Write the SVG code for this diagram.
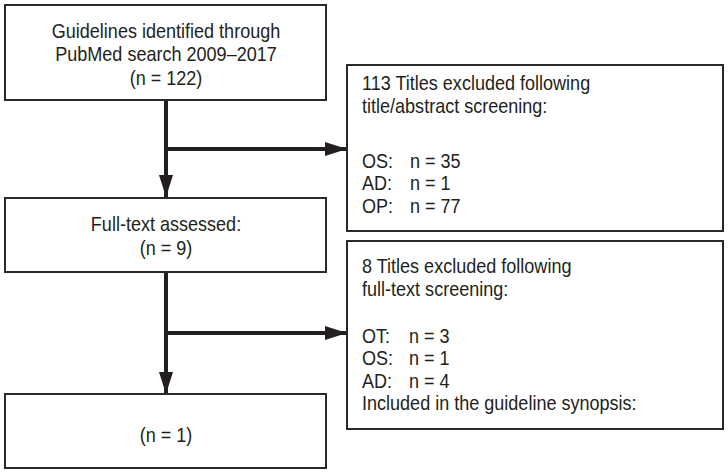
<svg xmlns="http://www.w3.org/2000/svg" width="728" height="474" viewBox="0 0 728 474">
<style>
.box{fill:#fff;stroke:#2a2a2a;stroke-width:2}
.t{font-family:"Liberation Sans",Arial,sans-serif;font-size:20.5px;fill:#231f20}
.c{text-anchor:middle}
.con{stroke:#231f20;stroke-width:4;fill:none}
</style>
<defs>
<marker id="ah" markerUnits="userSpaceOnUse" markerWidth="22" markerHeight="14" refX="22" refY="7" orient="auto">
<path d="M0,0 L22,7 L0,14 Z" fill="#231f20"/>
</marker>
</defs>
<rect width="728" height="474" fill="#fff"/>
<g id="connectors">
<line class="con" x1="166" y1="100" x2="166" y2="197" marker-end="url(#ah)"/>
<line class="con" x1="166" y1="149" x2="347" y2="149" marker-end="url(#ah)"/>
<line class="con" x1="166" y1="272" x2="166" y2="394" marker-end="url(#ah)"/>
<line class="con" x1="166" y1="333" x2="347" y2="333" marker-end="url(#ah)"/>
</g>
<g id="n1">
<rect class="box" x="5" y="5" width="321" height="95"/>
<text class="t c" transform="translate(166,37.5) scale(0.88,1)">Guidelines identified through</text>
<text class="t c" transform="translate(166,61) scale(0.88,1)">PubMed search 2009–2017</text>
<text class="t c" transform="translate(166,85) scale(0.88,1)">(n = 122)</text>
</g>
<g id="n2">
<rect class="box" x="347" y="65" width="376" height="166"/>
<text class="t" transform="translate(362,90) scale(0.88,1)">113 Titles excluded following</text>
<text class="t" transform="translate(362,112.5) scale(0.88,1)">title/abstract screening:</text>
<text class="t" transform="translate(362,167.5) scale(0.88,1)">OS:</text><text class="t" transform="translate(410,167.5) scale(0.88,1)">n = 35</text>
<text class="t" transform="translate(362,190) scale(0.88,1)">AD:</text><text class="t" transform="translate(410,190) scale(0.88,1)">n = 1</text>
<text class="t" transform="translate(362,212.5) scale(0.88,1)">OP:</text><text class="t" transform="translate(410,212.5) scale(0.88,1)">n = 77</text>
</g>
<g id="n3">
<rect class="box" x="5" y="198" width="321" height="74"/>
<text class="t c" transform="translate(166,231) scale(0.88,1)">Full-text assessed:</text>
<text class="t c" transform="translate(166,254.5) scale(0.88,1)">(n = 9)</text>
</g>
<g id="n4">
<rect class="box" x="347" y="241" width="376" height="188"/>
<text class="t" transform="translate(362,273) scale(0.88,1)">8 Titles excluded following</text>
<text class="t" transform="translate(362,295.5) scale(0.88,1)">full-text screening:</text>
<text class="t" transform="translate(362,342.5) scale(0.88,1)">OT:</text><text class="t" transform="translate(409,342.5) scale(0.88,1)">n = 3</text>
<text class="t" transform="translate(362,365) scale(0.88,1)">OS:</text><text class="t" transform="translate(409,365) scale(0.88,1)">n = 1</text>
<text class="t" transform="translate(362,387.5) scale(0.88,1)">AD:</text><text class="t" transform="translate(409,387.5) scale(0.88,1)">n = 4</text>
<text class="t" transform="translate(362,410) scale(0.88,1)">Included in the guideline synopsis:</text>
</g>
<g id="n5">
<rect class="box" x="5" y="394" width="321" height="74"/>
<text class="t c" transform="translate(166,442) scale(0.88,1)">(n = 1)</text>
</g>
</svg>
